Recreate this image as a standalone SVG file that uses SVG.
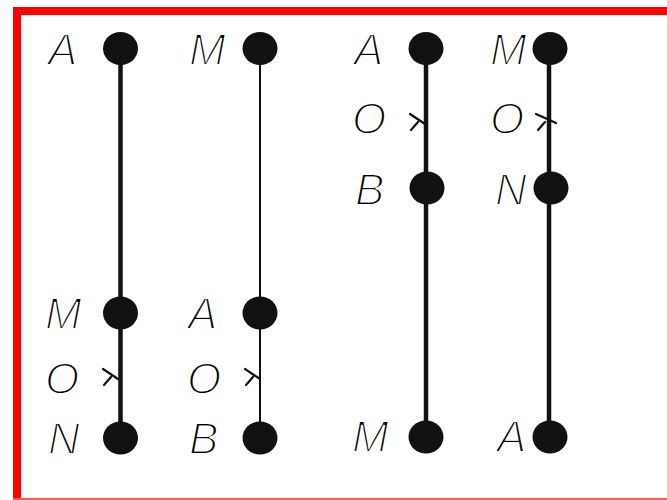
<svg xmlns="http://www.w3.org/2000/svg" width="667" height="500" viewBox="0 0 667 500">
<style>
.lbl{font-family:"Liberation Sans","Arial",sans-serif;font-style:italic;font-weight:normal;font-size:44px;fill:#000;stroke:#fff;stroke-width:1.8}
.dot{fill:#111}
.tick{stroke:#111;stroke-width:2.2;fill:none;stroke-linecap:round}
.thick{stroke:#111;stroke-width:4.5}
.thin{stroke:#111;stroke-width:2}
</style>
<rect x="0" y="0" width="667" height="500" fill="#fff"/>
<g id="frame">
<line x1="17" y1="7" x2="17" y2="500" stroke="#f00" stroke-width="8"/>
<line x1="13" y1="11" x2="667" y2="11" stroke="#f00" stroke-width="8"/>
<line x1="13" y1="499" x2="667" y2="499" stroke="#f55" stroke-width="2"/>
</g>
<g id="connectors">
<line class="thick" x1="120.5" y1="49" x2="120.5" y2="437"/>
<line class="thin" x1="260" y1="49" x2="260" y2="437"/>
<line class="thick" x1="426" y1="49" x2="426" y2="437"/>
<line class="thick" x1="549" y1="49" x2="549" y2="437"/>
</g>
<g id="c1-A"><ellipse class="dot" cx="120.5" cy="48.5" rx="17.5" ry="16.5"/><text class="lbl" x="48" y="65">A</text></g>
<g id="c1-M"><ellipse class="dot" cx="120.5" cy="313" rx="17.5" ry="16.5"/><text class="lbl" x="45" y="329">M</text></g>
<g id="c1-O"><path class="tick" d="M103,369 L118,379 M104,385 L111,377"/><text class="lbl" x="45" y="394">O</text></g>
<g id="c1-N"><ellipse class="dot" cx="120.5" cy="438" rx="17.5" ry="16.5"/><text class="lbl" x="48" y="454">N</text></g>
<g id="c2-M"><ellipse class="dot" cx="260" cy="48.5" rx="17.5" ry="16.5"/><text class="lbl" x="189" y="65">M</text></g>
<g id="c2-A"><ellipse class="dot" cx="260" cy="313" rx="17.5" ry="16.5"/><text class="lbl" x="188" y="329">A</text></g>
<g id="c2-O"><path class="tick" d="M245,369 L260,379 M246,385 L253,377"/><text class="lbl" x="187" y="394">O</text></g>
<g id="c2-B"><ellipse class="dot" cx="260" cy="438" rx="17.5" ry="16.5"/><text class="lbl" x="189" y="454">B</text></g>
<g id="c3-A"><ellipse class="dot" cx="426" cy="48.5" rx="17.5" ry="16.5"/><text class="lbl" x="354" y="65">A</text></g>
<g id="c3-O"><path class="tick" d="M410,114 L425,124 M411,130 L418,122"/><text class="lbl" x="352" y="134">O</text></g>
<g id="c3-B"><ellipse class="dot" cx="427" cy="188" rx="17.5" ry="16.5"/><text class="lbl" x="355" y="205">B</text></g>
<g id="c3-M"><ellipse class="dot" cx="426" cy="437" rx="17.5" ry="16.5"/><text class="lbl" x="352" y="452">M</text></g>
<g id="c4-M"><ellipse class="dot" cx="550" cy="48.5" rx="17.5" ry="16.5"/><text class="lbl" x="490" y="65">M</text></g>
<g id="c4-O"><path class="tick" d="M536,114 L556,123 M538,130 L545,122"/><text class="lbl" x="490" y="134">O</text></g>
<g id="c4-N"><ellipse class="dot" cx="551" cy="188" rx="17.5" ry="16.5"/><text class="lbl" x="495" y="205">N</text></g>
<g id="c4-A"><ellipse class="dot" cx="550" cy="437" rx="17.5" ry="16.5"/><text class="lbl" x="497" y="452">A</text></g>
</svg>
